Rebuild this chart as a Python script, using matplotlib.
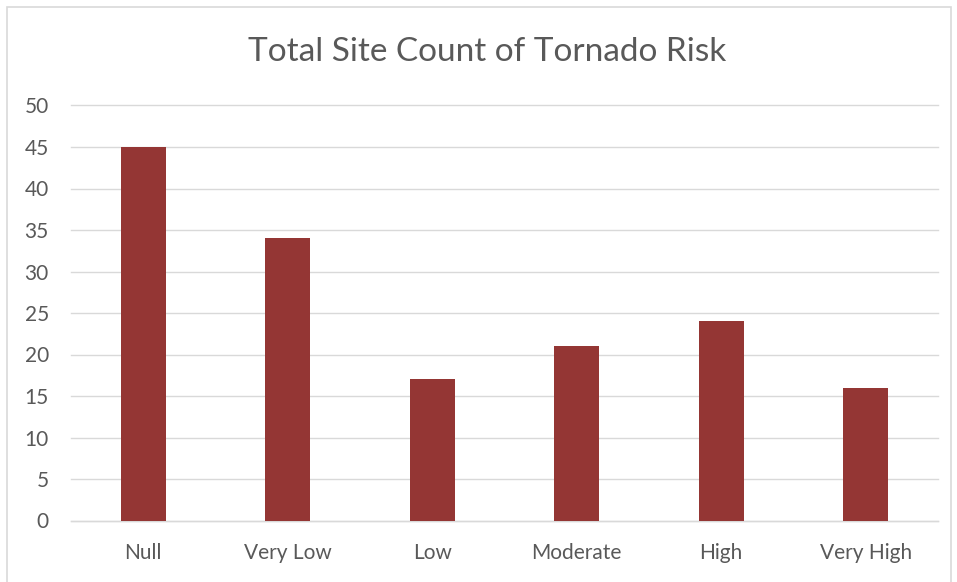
import matplotlib
matplotlib.use("Agg")
import matplotlib.pyplot as plt
from matplotlib.patches import Rectangle

categories = ["Null", "Very Low", "Low", "Moderate", "High", "Very High"]
values = [45, 34, 17, 21, 24, 16]
yticks = [0, 5, 10, 15, 20, 25, 30, 35, 40, 45, 50]

plt.rcParams['font.family'] = ['Lato', 'DejaVu Sans']
W, H = 957, 582
fig = plt.figure(figsize=(W/100, H/100), dpi=100)
fig.patches.append(Rectangle((7/W, -0.01), (951-7)/W, 1.01 - 7/H, transform=fig.transFigure,
                             fill=False, edgecolor='#d9d9d9', linewidth=1.2))
ax = fig.add_axes([71/W, 1-520.5/H, (938-71)/W, (520.5-105.5)/H])
x = list(range(len(categories)))
ax.bar(x, values, width=0.31, color='#943634', zorder=3)
ax.set_xlim(-0.5, len(categories)-0.5)
ax.set_ylim(0, 50)
ax.set_yticks(yticks)
ax.set_xticks(x)
ax.set_xticklabels(categories)
ax.grid(axis='y', color='#d9d9d9', linewidth=1.0, zorder=0)
for gl in ax.get_ygridlines():
    gl.set_clip_on(False)
for s in ['top', 'right', 'left']:
    ax.spines[s].set_visible(False)
ax.spines['bottom'].set_color('#d9d9d9')
ax.spines['bottom'].set_linewidth(1.0)
ax.tick_params(axis='both', length=0, labelsize=15, labelcolor='#595959')
ax.tick_params(axis='x', pad=16)
ax.tick_params(axis='y', pad=16)
fig.text(487/W, 1-52/H, "Total Site Count of Tornado Risk", ha='center', va='center',
         fontsize=24, color='#595959')
fig.savefig("out.png", dpi=100)
